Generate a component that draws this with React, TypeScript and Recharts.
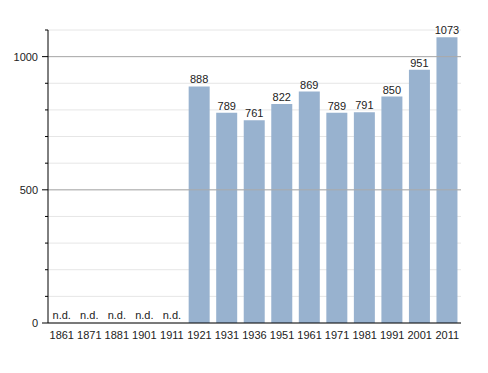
import { BarChart, Bar, XAxis, YAxis, CartesianGrid, ReferenceLine, ReferenceDot, LabelList } from "recharts";

const years = ["1861", "1871", "1881", "1901", "1911", "1921", "1931", "1936", "1951", "1961", "1971", "1981", "1991", "2001", "2011"];
const population: (number | null)[] = [null, null, null, null, null, 888, 789, 761, 822, 869, 789, 791, 850, 951, 1073];
const yTicks = [0, 100, 200, 300, 400, 500, 600, 700, 800, 900, 1000, 1100];
const labelledTicks = [0, 500, 1000];

const data = years.map((year, i) => ({ year, value: population[i] }));

const FONT = "'Liberation Sans', Arial, sans-serif";

function YTick(props: any) {
  const { x, y, payload } = props;
  const major = labelledTicks.includes(payload.value);
  return (
    <g>
      <line x1={x + 8} x2={x + (major ? 2 : 5)} y1={y} y2={y} stroke="#000" strokeWidth={1} />
      {major && (
        <text x={x - 2} y={y} dy={4} textAnchor="end" fontSize={11} fill="#222" fontFamily={FONT}>
          {payload.value}
        </text>
      )}
    </g>
  );
}

export default function App() {
  return (
    <div style={{ position: "absolute", left: 0, top: 0, background: "#fff" }}>
      <BarChart width={488} height={373} data={data} margin={{ top: 30, right: 27, bottom: 30, left: 0 }} barSize={21}>
        <CartesianGrid horizontal vertical={false} stroke="#e6e6e6" />
        <ReferenceLine y={500} stroke="#aaaaaa" />
        <ReferenceLine y={1000} stroke="#aaaaaa" />
        <XAxis
          dataKey="year"
          axisLine={{ stroke: "#000" }}
          tickLine={false}
          interval={0}
          tick={{ fontSize: 11, fill: "#222", fontFamily: FONT }}
          tickMargin={2}
          height={20}
        />
        <YAxis
          domain={[0, 1100]}
          ticks={yTicks}
          interval={0}
          width={48}
          axisLine={{ stroke: "#000" }}
          tickLine={false}
          tick={<YTick />}
        />
        <Bar dataKey="value" fill="#98b2cf" isAnimationActive={false}>
          <LabelList dataKey="value" position="top" offset={3} fontSize={11} fill="#222" fontFamily={FONT} />
        </Bar>
        {data
          .filter((d) => d.value === null)
          .map((d) => (
            <ReferenceDot
              key={d.year}
              x={d.year}
              y={0}
              r={0}
              fill="none"
              stroke="none"
              label={{ value: "n.d.", position: "top", offset: 4, fontSize: 11, fill: "#222", fontFamily: FONT }}
            />
          ))}
      </BarChart>
    </div>
  );
}
